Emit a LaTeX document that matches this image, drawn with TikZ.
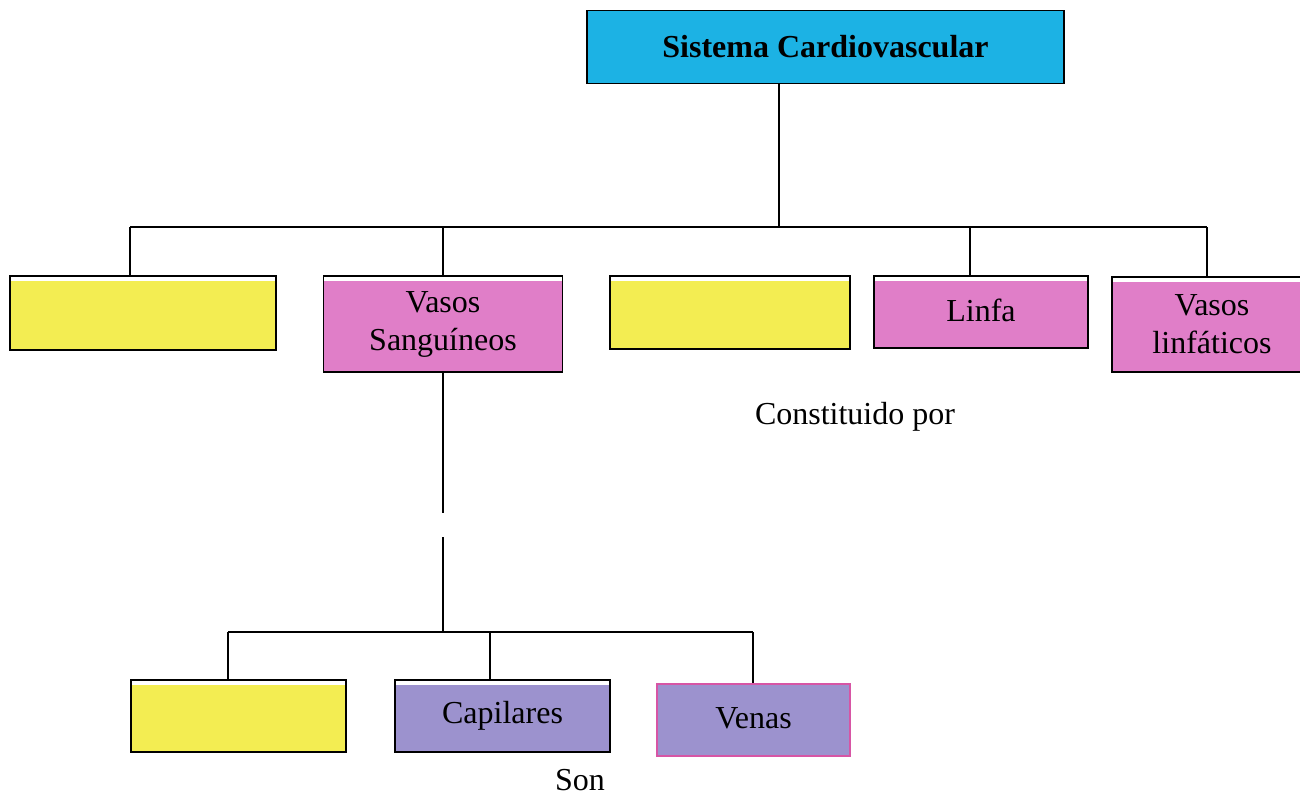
\documentclass[tikz,border=0pt]{standalone}
\usepackage{fontspec}
\setmainfont{Liberation Serif}
\definecolor{cyanbox}{RGB}{28,178,228}
\definecolor{yellowbox}{RGB}{243,237,82}
\definecolor{pinkbox}{RGB}{224,126,200}
\definecolor{purplebox}{RGB}{156,146,206}
\definecolor{pinkedge}{RGB}{215,85,165}
\tikzset{
  box/.style={draw=black, line width=0.9pt, inner sep=0pt, align=center,
    font=\fontsize{16}{19}\selectfont,
    path picture={\fill[white] (path picture bounding box.north west) rectangle ([yshift=-2.5pt]path picture bounding box.north east);}},
  conn/.style={draw=black, line width=0.8pt},
  lbl/.style={font=\fontsize{16}{19}\selectfont, inner sep=0pt}
}
\begin{document}
\begin{tikzpicture}[x=0.5pt,y=-0.5pt]
\clip (0,0) rectangle (1300,797);
\fill[white] (0,0) rectangle (1300,797);
% top
\node[box, fill=cyanbox, minimum width=238.5pt, minimum height=36.5pt,
  path picture={}, font=\fontsize{16}{19}\selectfont\bfseries] (top) at (825.5,47) {Sistema Cardiovascular};
% middle row
\node[box, fill=yellowbox, minimum width=133pt, minimum height=37pt] (b1) at (143,313) {};
\node[box, fill=pinkbox, minimum width=119.5pt, minimum height=48pt] (b2) at (443,324) {\raisebox{-2pt}{\parbox{110pt}{\centering Vasos\\Sanguíneos}}};
\node[box, fill=yellowbox, minimum width=120pt, minimum height=36.5pt] (b3) at (730,312.5) {};
\node[box, fill=pinkbox, minimum width=107pt, minimum height=36pt] (b4) at (981,312) {\raisebox{2pt}{Linfa}};
\node[box, fill=pinkbox, minimum width=100pt, minimum height=47.5pt] (b5) at (1212,324.5) {\raisebox{-1pt}{\parbox{90pt}{\centering Vasos\\linfáticos}}};
% bottom row
\node[box, fill=yellowbox, minimum width=107.5pt, minimum height=36pt] (c1) at (238.5,716) {};
\node[box, fill=purplebox, minimum width=107.5pt, minimum height=36pt] (c2) at (502.5,716) {Capilares};
\node[box, fill=purplebox, draw=pinkedge, line width=0.8pt, minimum width=96.5pt, minimum height=36pt, path picture={}] (c3) at (753.5,720) {\raisebox{2pt}{Venas}};
% labels
\node[lbl] (constituido) at (855,417) {Constituido por};
\node[lbl] (son) at (580,780) {Son};
% connectors top level
\coordinate (j1) at (779,227);
\coordinate (hl) at (130,227);
\coordinate (hr) at (1207,227);
\draw[conn] (top.south -| j1) -- (j1);
\draw[conn] (hl) -- (hr);
\draw[conn] (hl) -- (hl |- b1.north);
\draw[conn] (b2.north |- hl) -- (b2.north);
\draw[conn] (970,227) coordinate (d4) -- (d4 |- b4.north);
\draw[conn] (hr) -- (hr |- b5.north);
% connectors lower level
\coordinate (g1) at (443,513);
\coordinate (g2) at (443,537);
\coordinate (j2) at (443,632);
\coordinate (kl) at (228,632);
\coordinate (kr) at (753,632);
\draw[conn] (b2.south) -- (g1);
\draw[conn] (g2) -- (j2);
\draw[conn] (kl) -- (kr);
\draw[conn] (kl) -- (kl |- c1.north);
\draw[conn] (490,632) coordinate (k2) -- (k2 |- c2.north);
\draw[conn] (kr) -- (kr |- c3.north);
\end{tikzpicture}
\end{document}
